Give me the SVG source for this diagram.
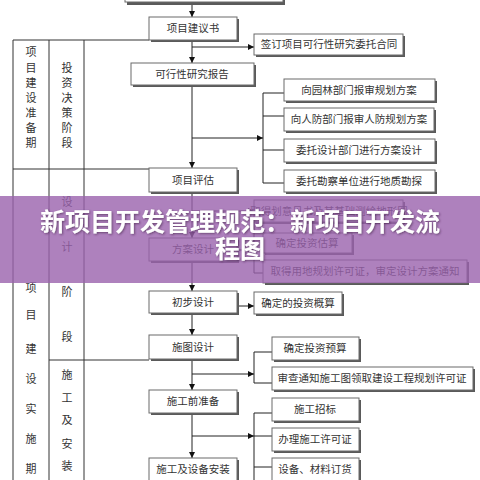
<svg xmlns="http://www.w3.org/2000/svg" width="480" height="480" viewBox="0 0 480 480">
<defs>
<style>
.sh{fill:#5a5a5a}
.bx{fill:#ffffff;stroke:#6a6a6a;stroke-width:1}
.t{font-family:"Noto Sans CJK SC","Noto Sans",sans-serif;font-size:10.5px;fill:#333;text-anchor:middle}
.c{font-family:"Noto Sans CJK SC","Noto Sans",sans-serif;font-size:11px;fill:#333;text-anchor:middle}
.ln{stroke:#222;stroke-width:1;fill:none}
.grid{stroke:#333;stroke-width:1;fill:none}
.title{font-family:"Noto Sans CJK SC","Noto Sans",sans-serif;font-size:25px;font-weight:bold;fill:#ffffff;text-anchor:middle}
</style>
<marker id="ar" markerWidth="7" markerHeight="7" refX="6" refY="3" orient="auto" markerUnits="userSpaceOnUse">
<path d="M0,0 L6,3 L0,6 Z" fill="#111"/>
</marker>
<filter id="ds" x="-5%" y="-20%" width="110%" height="140%">
<feDropShadow dx="1" dy="1" stdDeviation="1" flood-color="#3a2040" flood-opacity="0.6"/>
</filter>
</defs>
<rect width="480" height="480" fill="#ffffff"/>

<g id="table">
<path class="grid" d="M13,40 V480 M49,40 V480 M84,40 V480 M13,40 H149 M13,169 H149 M49,360 H149"/>
<text class="c" x="31" y="56">项</text>
<text class="c" x="31" y="72">目</text>
<text class="c" x="31" y="87">建</text>
<text class="c" x="31" y="102">设</text>
<text class="c" x="31" y="117">准</text>
<text class="c" x="31" y="132">备</text>
<text class="c" x="31" y="147">期</text>
<text class="c" x="67" y="72">投</text>
<text class="c" x="67" y="87">资</text>
<text class="c" x="67" y="102">决</text>
<text class="c" x="67" y="117">策</text>
<text class="c" x="67" y="132">阶</text>
<text class="c" x="67" y="147">段</text>
<text class="c" x="67" y="206">设</text>
<text class="c" x="67" y="251">计</text>
<text class="c" x="67" y="296">阶</text>
<text class="c" x="67" y="341">段</text>
<text class="c" x="31" y="292">项</text>
<text class="c" x="31" y="319">目</text>
<text class="c" x="31" y="353">建</text>
<text class="c" x="31" y="383">设</text>
<text class="c" x="31" y="413">实</text>
<text class="c" x="31" y="443">施</text>
<text class="c" x="31" y="473">期</text>
<text class="c" x="67" y="379">施</text>
<text class="c" x="67" y="402">工</text>
<text class="c" x="67" y="424">及</text>
<text class="c" x="67" y="448">安</text>
<text class="c" x="67" y="470">装</text>
</g>

<g id="connectors">
<line class="ln" x1="192" y1="3" x2="192" y2="17" marker-end="url(#ar)"/>
<line class="ln" x1="192" y1="40" x2="192" y2="63" marker-end="url(#ar)"/>
<line class="ln" x1="192" y1="47" x2="254" y2="47" marker-end="url(#ar)"/>
<line class="ln" x1="192" y1="85" x2="192" y2="168" marker-end="url(#ar)"/>
<line class="ln" x1="192" y1="138" x2="263" y2="138" marker-end="url(#ar)"/>
<path class="ln" d="M263,93 V183 M263,93 H284 M263,116 H284 M263,150 H284 M263,183 H284"/>
<line class="ln" x1="192" y1="192" x2="192" y2="238" marker-end="url(#ar)"/>
<line class="ln" x1="192" y1="211" x2="254" y2="211" marker-end="url(#ar)"/>
<line class="ln" x1="237" y1="250" x2="254" y2="250" marker-end="url(#ar)"/>
<path class="ln" d="M254,222 V273 M254,243 H263 M254,273 H263"/>
<line class="ln" x1="192" y1="261" x2="192" y2="291" marker-end="url(#ar)"/>
<line class="ln" x1="237" y1="306" x2="254" y2="306" marker-end="url(#ar)"/>
<line class="ln" x1="192" y1="313" x2="192" y2="335" marker-end="url(#ar)"/>
<line class="ln" x1="192" y1="374" x2="254" y2="374" marker-end="url(#ar)"/>
<path class="ln" d="M254,352 V383 M254,352 H272 M254,383 H272"/>
<line class="ln" x1="192" y1="359" x2="192" y2="390" marker-end="url(#ar)"/>
<line class="ln" x1="192" y1="436" x2="254" y2="436" marker-end="url(#ar)"/>
<path class="ln" d="M254,413 V480 M254,413 H272 M254,436 H272 M254,467 H272"/>
<line class="ln" x1="192" y1="413" x2="192" y2="458" marker-end="url(#ar)"/>
</g>

<g id="n-top"><rect class="sh" x="127" y="-18" width="158" height="23"/><rect class="bx" x="125" y="-20" width="158" height="22"/></g>
<g id="n-jianyishu"><rect class="sh" x="151" y="19" width="88" height="23"/><rect class="bx" x="149" y="17" width="88" height="23"/><text class="t" x="193" y="32">项目建议书</text></g>
<g id="n-qianding"><rect class="sh" x="256" y="36" width="149" height="21"/><rect class="bx" x="254" y="34" width="149" height="21"/><text class="t" x="329" y="48">签订项目可行性研究委托合同</text></g>
<g id="n-kexing"><rect class="sh" x="133" y="65" width="123" height="22"/><rect class="bx" x="131" y="63" width="123" height="22"/><text class="t" x="192" y="78">可行性研究报告</text></g>
<g id="n-yuanlin"><rect class="sh" x="286" y="81" width="151" height="22"/><rect class="bx" x="284" y="79" width="151" height="22"/><text class="t" x="359" y="94">向园林部门报审规划方案</text></g>
<g id="n-renfang"><rect class="sh" x="286" y="110" width="150" height="23"/><rect class="bx" x="284" y="108" width="150" height="23"/><text class="t" x="359" y="123">向人防部门报审人防规划方案</text></g>
<g id="n-weituosheji"><rect class="sh" x="286" y="141" width="151" height="23"/><rect class="bx" x="284" y="139" width="151" height="23"/><text class="t" x="359" y="154">委托设计部门进行方案设计</text></g>
<g id="n-kancha"><rect class="sh" x="286" y="172" width="151" height="22"/><rect class="bx" x="284" y="170" width="151" height="22"/><text class="t" x="359" y="185">委托勘察单位进行地质勘探</text></g>
<g id="n-pinggu"><rect class="sh" x="151" y="170" width="88" height="24"/><rect class="bx" x="149" y="168" width="88" height="24"/><text class="t" x="193" y="184">项目评估</text></g>
<g id="n-quedehua"><rect class="sh" x="256" y="202" width="149" height="22"/><rect class="bx" x="254" y="200" width="149" height="22"/><text class="t" x="329" y="215">取得划意见书及其基础测绘地形图</text></g>
<g id="n-fangan"><rect class="sh" x="151" y="240" width="88" height="23"/><rect class="bx" x="149" y="238" width="88" height="23"/><text class="t" x="193" y="253">方案设计</text></g>
<g id="n-guji"><rect class="sh" x="265" y="235" width="89" height="20"/><rect class="bx" x="263" y="233" width="89" height="20"/><text class="t" x="307" y="247">确定投资估算</text></g>
<g id="n-yongdi"><rect class="sh" x="265" y="262" width="204" height="23"/><rect class="bx" x="263" y="260" width="204" height="23"/><text class="t" x="365" y="275">取得用地规划许可证，审定设计方案通知</text></g>
<g id="n-chubu"><rect class="sh" x="151" y="293" width="88" height="22"/><rect class="bx" x="149" y="291" width="88" height="22"/><text class="t" x="193" y="306">初步设计</text></g>
<g id="n-gaisuan"><rect class="sh" x="256" y="294" width="88" height="22"/><rect class="bx" x="254" y="292" width="88" height="22"/><text class="t" x="298" y="307">确定的投资概算</text></g>
<g id="n-shitu"><rect class="sh" x="151" y="337" width="88" height="24"/><rect class="bx" x="149" y="335" width="88" height="24"/><text class="t" x="193" y="351">施图设计</text></g>
<g id="n-yusuan"><rect class="sh" x="274" y="339" width="87" height="23"/><rect class="bx" x="272" y="337" width="87" height="23"/><text class="t" x="315" y="352">确定投资预算</text></g>
<g id="n-shencha"><rect class="sh" x="274" y="369" width="201" height="23"/><rect class="bx" x="272" y="367" width="201" height="23"/><text class="t" x="372" y="382">审查通知施工图领取建设工程规划许可证</text></g>
<g id="n-zhunbei"><rect class="sh" x="151" y="392" width="88" height="23"/><rect class="bx" x="149" y="390" width="88" height="23"/><text class="t" x="193" y="405">施工前准备</text></g>
<g id="n-zhaobiao"><rect class="sh" x="274" y="400" width="87" height="23"/><rect class="bx" x="272" y="398" width="87" height="23"/><text class="t" x="315" y="413">施工招标</text></g>
<g id="n-xuke"><rect class="sh" x="274" y="430" width="87" height="23"/><rect class="bx" x="272" y="428" width="87" height="23"/><text class="t" x="315" y="443">办理施工许可证</text></g>
<g id="n-dinghuo"><rect class="sh" x="274" y="460" width="87" height="30"/><rect class="bx" x="272" y="458" width="87" height="30"/><text class="t" x="315" y="473">设备、材料订货</text></g>
<g id="n-anzhuang"><rect class="sh" x="151" y="460" width="88" height="30"/><rect class="bx" x="149" y="458" width="88" height="30"/><text class="t" x="193" y="473">施工及设备安装</text></g>

<g id="banner">
<rect x="0" y="196" width="480" height="87" fill="#9a62ad" fill-opacity="0.8"/>
<g filter="url(#ds)">
<text class="title" x="240" y="231">新项目开发管理规范：新项目开发流</text>
<text class="title" x="240" y="258">程图</text>
</g>
</g>
</svg>
